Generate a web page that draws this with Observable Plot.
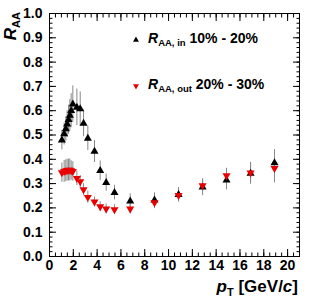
<!DOCTYPE html>
<html><head><meta charset="utf-8">
<script src="https://cdn.jsdelivr.net/npm/d3@7"></script>
<script src="https://cdn.jsdelivr.net/npm/@observablehq/plot@0.6"></script>
<style>
body{margin:0;background:#fff}
svg{font-family:"Liberation Sans",Arial,sans-serif}
</style>
</head><body><div id="chart"></div>
<script>
// pT bin positions (GeV/c)
const pT = [1.04,1.23,1.37,1.48,1.60,1.71,1.82,1.96,2.30,2.58,2.86,3.22,3.78,4.26,4.76,5.46,6.78,8.82,10.84,12.86,14.87,16.89,18.90];
// R_AA, in  (10% - 20%)
const raaIn  = [0.479,0.504,0.525,0.545,0.563,0.581,0.600,0.627,0.614,0.607,0.548,0.486,0.432,0.353,0.304,0.263,0.228,0.232,0.254,0.285,0.314,0.342,0.385];
const errIn  = [0.040,0.045,0.050,0.055,0.060,0.065,0.070,0.075,0.075,0.070,0.055,0.050,0.045,0.040,0.035,0.030,0.030,0.030,0.030,0.035,0.040,0.045,0.055];
// R_AA, out (20% - 30%)
const raaOut = [0.345,0.350,0.353,0.355,0.356,0.356,0.354,0.350,0.322,0.308,0.275,0.244,0.225,0.205,0.196,0.193,0.196,0.222,0.252,0.292,0.333,0.344,0.363];
const errOut = [0.040,0.045,0.045,0.045,0.045,0.045,0.040,0.040,0.030,0.025,0.025,0.025,0.020,0.020,0.020,0.020,0.020,0.025,0.025,0.025,0.030,0.040,0.060];
// tick labels
const xTicks = [0,2,4,6,8,10,12,14,16,18,20];
const yTicks = [0,0.1,0.2,0.3,0.4,0.5,0.6,0.7,0.8,0.9,1];
const xMinor = d3.range(0, 21.001, 0.5);
const yMinor = d3.range(0, 1.0001, 0.02);

const inData  = pT.map((x,i)=>({x, y: raaIn[i],  e: errIn[i]}));
const outData = pT.map((x,i)=>({x, y: raaOut[i], e: errOut[i]}));

const triDown = {draw(ctx, size){
  const y = -Math.sqrt(size/(Math.sqrt(3)*3)), s3 = Math.sqrt(3);
  ctx.moveTo(0, -2*y); ctx.lineTo(s3*y, y); ctx.lineTo(-s3*y, y); ctx.closePath();
}};
const RED = "#e80000";
const FS = 14;

const tickOnly = {fill:"none", label:null};
const plot = Plot.plot({
  width:312, height:304,
  marginLeft:49, marginRight:13, marginTop:13, marginBottom:48,
  x:{domain:[0,21]}, y:{domain:[0,1]},
  style:{fontFamily:'"Liberation Sans",Arial,sans-serif', color:"black", background:"white"},
  marks:[
    Plot.axisX(xTicks,{anchor:"bottom", tickSize:0, tickPadding:4, label:null, fontSize:FS, fontWeight:"bold"}),
    Plot.axisY(yTicks,{anchor:"left", tickSize:0, tickPadding:7, label:null, fontSize:FS, fontWeight:"bold"}),
    Plot.axisX(xTicks,{anchor:"bottom", tickSize:-7, ...tickOnly}),
    Plot.axisX(xMinor,{anchor:"bottom", tickSize:-3.5, ...tickOnly}),
    Plot.axisX(xTicks,{anchor:"top", tickSize:-7, ...tickOnly}),
    Plot.axisX(xMinor,{anchor:"top", tickSize:-3.5, ...tickOnly}),
    Plot.axisY(yTicks,{anchor:"left", tickSize:-7, ...tickOnly}),
    Plot.axisY(yMinor,{anchor:"left", tickSize:-3.5, ...tickOnly}),
    Plot.axisY(yTicks,{anchor:"right", tickSize:-7, ...tickOnly}),
    Plot.axisY(yMinor,{anchor:"right", tickSize:-3.5, ...tickOnly}),
    Plot.frame({stroke:"black"}),
    Plot.ruleX(inData,{x:"x", y1:d=>d.y-d.e, y2:d=>d.y+d.e, stroke:"#888", strokeWidth:1}),
    Plot.ruleX(outData,{x:"x", y1:d=>d.y-d.e, y2:d=>d.y+d.e, stroke:"#888", strokeWidth:1}),
    Plot.dot(inData,{x:"x", y:"y", symbol:"triangle", r:3, fill:"black", stroke:"none"}),
    Plot.dot(outData,{x:"x", y:"y", symbol:triDown, r:3, fill:RED, stroke:"none"})
  ]
});
document.getElementById("chart").appendChild(plot);

const svg = d3.select(plot);
// y title
const ty = svg.append("text").attr("transform","translate(15.5,12) rotate(-90)")
  .attr("text-anchor","end").attr("font-weight","bold").attr("font-size",17);
ty.append("tspan").attr("font-style","italic").text("R");
ty.append("tspan").attr("font-size",11).attr("dy",4).text("AA");
// x title
const tx = svg.append("text").attr("x",298).attr("y",292)
  .attr("text-anchor","end").attr("font-weight","bold").attr("font-size",17);
tx.append("tspan").attr("font-style","italic").text("p");
tx.append("tspan").attr("font-size",11).attr("dy",4).text("T");
tx.append("tspan").attr("dy",-4).text(" [GeV/");
tx.append("tspan").attr("font-style","italic").text("c");
tx.append("tspan").text("]");
// legend
const legend = [
  {sym:"up", color:"black", sub:"AA, in", label:" 10% - 20%", y:43},
  {sym:"down", color:RED, sub:"AA, out", label:" 20% - 30%", y:89}
];
legend.forEach(l=>{
  const s = 2.2*2.2*Math.PI;
  const p = d3.path();
  (l.sym==="up" ? d3.symbolTriangle : triDown).draw(p, s);
  svg.append("path").attr("d", p.toString()).attr("fill", l.color)
    .attr("transform", `translate(136,${l.y-3})`);
  const t = svg.append("text").attr("x",148).attr("y",l.y).attr("text-anchor","start")
    .attr("font-weight","bold").attr("font-size",FS);
  t.append("tspan").attr("font-style","italic").text("R");
  t.append("tspan").attr("font-size",9.5).attr("dy",3).text(l.sub);
  t.append("tspan").attr("dy",-3).text(l.label);
});
</script>
</body></html>
